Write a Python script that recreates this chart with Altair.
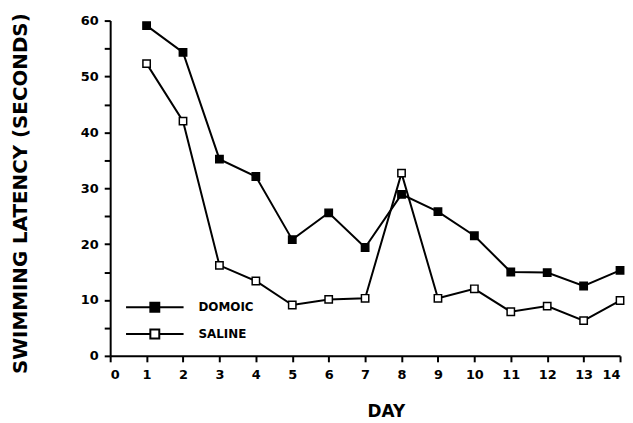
import altair as alt
import pandas as pd

days = list(range(1, 15))
domoic = [59.1, 54.3, 35.2, 32.1, 20.8, 25.6, 19.4, 28.9, 25.8, 21.5, 15.0, 14.9, 12.5, 15.3]
saline = [52.3, 42.0, 16.2, 13.4, 9.1, 10.1, 10.3, 32.7, 10.3, 12.0, 7.9, 8.9, 6.3, 9.9]
series_names = ["DOMOIC", "SALINE"]
x_ticks = list(range(0, 15))
y_ticks = list(range(0, 65, 5))

rows = []
for d, v in zip(days, domoic):
    rows.append({"day": d, "latency": v, "group": series_names[0]})
for d, v in zip(days, saline):
    rows.append({"day": d, "latency": v, "group": series_names[1]})
df = pd.DataFrame(rows)

FONT = "DejaVu Sans"

x_enc = alt.X(
    "day:Q",
    scale=alt.Scale(domain=[0, 14], nice=False, zero=False),
    axis=alt.Axis(
        values=x_ticks,
        title="DAY",
        titleFont=FONT,
        titleFontSize=17,
        titleFontWeight="bold",
        titleX=278,
        titleY=56,
        titleAlign="center",
        titleBaseline="middle",
        labelPadding=7,
    ),
)
y_enc = alt.Y(
    "latency:Q",
    scale=alt.Scale(domain=[0, 60], nice=False),
    axis=alt.Axis(
        values=y_ticks,
        labelExpr="datum.value % 10 == 0 ? datum.label : ''",
        title="SWIMMING LATENCY (SECONDS)",
        titleFont=FONT,
        titleFontSize=20,
        titleFontWeight="bold",
        titleX=-90,
        titleY=174,
        titleAngle=-90,
        titleAlign="center",
        titleBaseline="middle",
        labelPadding=6,
    ),
)

lines = alt.Chart(df).mark_line(color="black", strokeWidth=2).encode(
    x=x_enc, y=y_enc, detail="group:N"
)

legend_path = "M-5.8,0L-0.9,0M0.9,0L5.8,0M-0.9,-0.9L0.9,-0.9L0.9,0.9L-0.9,0.9Z"

points = alt.Chart(df).mark_point(
    shape="square", filled=True, size=55, stroke="black", strokeWidth=1.5, opacity=1
).encode(
    x=x_enc,
    y=y_enc,
    fill=alt.Fill(
        "group:N",
        scale=alt.Scale(domain=series_names, range=["black", "white"]),
        legend=alt.Legend(
            title=None,
            orient="none",
            legendX=39,
            legendY=283,
            padding=0,
            symbolType=legend_path,
            symbolSize=100,
            symbolStrokeColor="black",
            symbolStrokeWidth=2,
            symbolOffset=0,
            labelOffset=38,
            labelFont=FONT,
            labelFontSize=12,
            labelFontWeight="bold",
            labelColor="black",
            rowPadding=9,
        ),
    ),
)

chart = (
    alt.layer(lines, points)
    .properties(
        width=514,
        height=338,
        autosize=alt.AutoSizeParams(type="none"),
        padding={"left": 103, "top": 11, "right": 5, "bottom": 66},
        background="white",
    )
    .configure_view(stroke=None)
    .configure_axis(
        grid=False,
        domainColor="black",
        domainWidth=2,
        tickColor="black",
        tickWidth=2,
        tickSize=6,
        labelFont=FONT,
        labelFontSize=13,
        labelFontWeight="bold",
        labelColor="black",
        titleColor="black",
    )
)

chart.save("out.html", embed_options={"renderer": "svg", "actions": False})
